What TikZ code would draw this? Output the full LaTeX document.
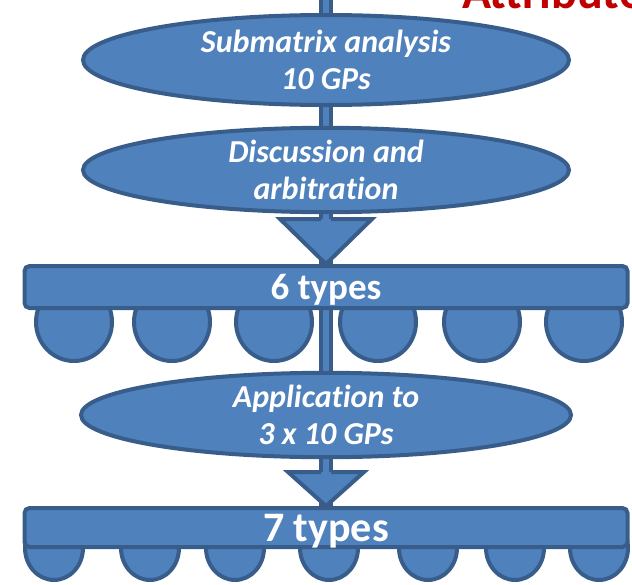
\documentclass[tikz,border=0pt]{standalone}
\usepackage{fontspec}
\setmainfont{Carlito}[Ligatures=NoCommon]
\usetikzlibrary{shapes.geometric,backgrounds}
\definecolor{boxblue}{HTML}{4F81BD}
\definecolor{edgeblue}{HTML}{385D8A}
\definecolor{titlered}{HTML}{C00000}
\begin{document}
\begin{tikzpicture}[x=1pt,y=-1pt,
    blob/.style={ellipse,draw=edgeblue,fill=boxblue,line width=4pt,inner sep=0pt,
      minimum width=486pt,text=white,align=center,
      font=\fontsize{32}{37}\selectfont\bfseries\itshape},
    bar/.style={rectangle,rounded corners=5pt,draw=edgeblue,fill=boxblue,
      line width=4pt,inner sep=0pt,minimum width=603pt,text=white,text depth=0pt},
    bump/.style={ellipse,draw=edgeblue,fill=boxblue,line width=4pt,inner sep=0pt},
    shaft/.style={draw=edgeblue,line width=4pt,double=boxblue,double distance=6pt},
    head/.style={draw=edgeblue,fill=boxblue,line width=4pt,line join=miter}]
  \useasboundingbox (0,0) rectangle (632,584);
  \clip (0,0) rectangle (632,584);
  \node[anchor=base west,inner sep=0pt,text=titlered,
    font=\fontsize{48}{54}\selectfont\bfseries] (title) at (462,8) {Attribute};
  % lobes under the two bars
  \foreach \x [count=\i] in {74,172,274,378,482,584}
    \node[bump,minimum width=76pt,minimum height=78pt] (lobe\i) at (\x,322) {};
  \foreach \x [count=\i] in {54,150,235,329,428,515,599}
    \node[bump,minimum width=58pt,minimum height=64pt] (foot\i) at (\x,548) {};
  \node[bar,minimum height=42pt,font=\fontsize{37}{40}\selectfont\bfseries]
    (types6) at (326,287) {6 types};
  \node[bar,minimum height=39pt,font=\fontsize{42}{46}\selectfont\bfseries]
    (types7) at (326,527.5) {7 types};
  \node[blob,minimum height=90pt] (analysis) at (326,60) {Submatrix analysis\\10 GPs};
  \node[blob,minimum height=79pt] (discussion) at (326,170) {Discussion and\\arbitration};
  \node[blob,minimum width=490pt,minimum height=81pt] (application) at (326,415)
    {Application to\\3 x 10 GPs};
  \coordinate (top) at (326,0);
  \coordinate (h1) at (326,219);
  \coordinate (h2) at (326,472);
  \begin{pgfonlayer}{background}
    \draw[shaft] (top) -- (types7.north);
  \end{pgfonlayer}
  \filldraw[head] ([xshift=-5pt]h1) -- ([xshift=-46pt]h1) -- (types6.north)
    -- ([xshift=46pt]h1) -- ([xshift=5pt]h1);
  \filldraw[head] ([xshift=-5pt]h2) -- ([xshift=-38pt]h2) -- (types7.north)
    -- ([xshift=38pt]h2) -- ([xshift=5pt]h2);
\end{tikzpicture}
\end{document}
